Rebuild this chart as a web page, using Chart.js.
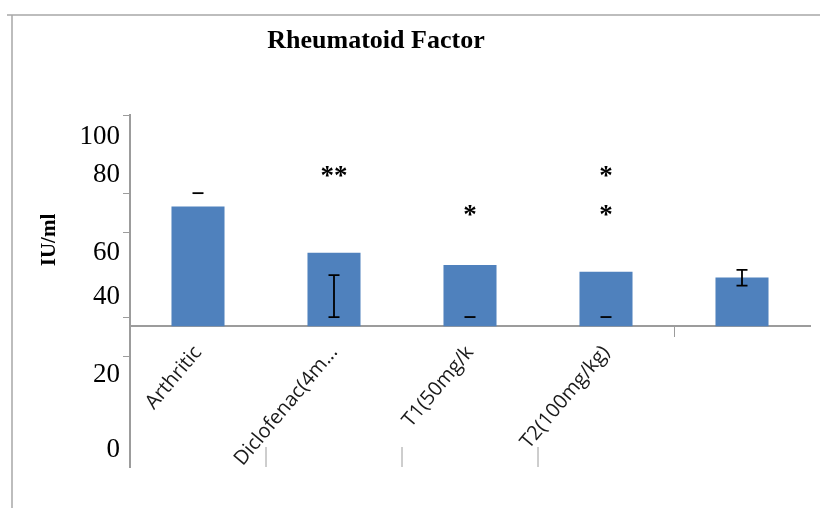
<!DOCTYPE html>
<html>
<head>
<meta charset="utf-8">
<script src="https://cdn.jsdelivr.net/npm/chart.js@4.4.1/dist/chart.umd.min.js"></script>
<style>
body { margin: 0; background: #fff; }
#wrap { width: 820px; height: 508px; }
</style>
</head>
<body>
<div id="wrap"><canvas id="chart"></canvas></div>
<script>
// values (IU/ml)
var categories = ["Arthritic", "Diclofenac(4m...", "T1(50mg/k", "T2(100mg/kg)", ""];
var values = [74.0, 60.9, 57.4, 55.5, 53.8];
var barBase = 40;
var errHigh = [77.8, 54.5, null, null, 56.0];
var errLow = [null, 42.6, 42.6, 42.6, 51.5];
var starsUpper = ["", "**", "", "*", ""];
var starsLower = ["", "", "*", "*", ""];
var starsUpperAt = 84.4;
var starsLowerAt = 73.3;

// y axis: labels and tick marks do not line up in the original
var yTickLabels = ["100", "80", "60", "40", "20", "0"];
var yTickLabelAt = [93.8, 83.0, 60.8, 48.3, 26.1, 4.8];
var yTickMarkAt = [100, 77.8, 66.5, 42.6, 31.5];

var axisGray = "#9c9c9c";

var extras = {
	id: 'extras',
	afterDraw: function(chart) {
		var ctx = chart.ctx;
		var x = chart.scales.x;
		var y = chart.scales.y;
		ctx.save();

		// outer frame
		ctx.strokeStyle = "#a8a8a8";
		ctx.lineWidth = 1.5;
		ctx.beginPath();
		ctx.moveTo(7, 15); ctx.lineTo(820, 15);
		ctx.moveTo(12, 15); ctx.lineTo(12, 508);
		ctx.stroke();

		// title and y title
		ctx.fillStyle = "#000";
		ctx.textAlign = "center";
		ctx.textBaseline = "middle";
		ctx.font = 'bold 26px "Liberation Serif"';
		ctx.fillText("Rheumatoid Factor", 376, 41);
		ctx.save();
		ctx.translate(50, 240);
		ctx.rotate(-Math.PI / 2);
		ctx.font = 'bold 21px "Liberation Serif"';
		ctx.fillText("IU/ml", 0, 0);
		ctx.restore();

		// stubs at the bottom between categories
		ctx.strokeStyle = axisGray;
		ctx.lineWidth = 1;
		for (var k = 1; k <= 3; k++) {
			var bx = (x.getPixelForValue(k - 1) + x.getPixelForValue(k)) / 2;
			ctx.beginPath();
			ctx.moveTo(bx, 447);
			ctx.lineTo(bx, chart.chartArea.bottom);
			ctx.stroke();
		}

		// error bars
		ctx.strokeStyle = "#000";
		ctx.lineWidth = 1.8;
		categories.forEach(function(c, i) {
			var px = x.getPixelForValue(i);
			var hi = errHigh[i], lo = errLow[i];
			ctx.beginPath();
			if (hi !== null && lo !== null) {
				ctx.moveTo(px, y.getPixelForValue(hi));
				ctx.lineTo(px, y.getPixelForValue(lo));
			}
			[hi, lo].forEach(function(v) {
				if (v !== null) {
					var py = y.getPixelForValue(v);
					ctx.moveTo(px - 5.5, py);
					ctx.lineTo(px + 5.5, py);
				}
			});
			ctx.stroke();
		});

		// significance stars
		ctx.font = 'bold 27px "Liberation Serif"';
		ctx.textBaseline = "alphabetic";
		categories.forEach(function(c, i) {
			var px = x.getPixelForValue(i);
			if (starsUpper[i]) ctx.fillText(starsUpper[i], px, y.getPixelForValue(starsUpperAt) + 14);
			if (starsLower[i]) ctx.fillText(starsLower[i], px, y.getPixelForValue(starsLowerAt) + 14);
		});
		ctx.restore();
	}
};

var tickValues = yTickLabelAt.concat(yTickMarkAt);

var chart = new Chart(document.getElementById("chart"), {
	type: 'bar',
	data: {
		labels: categories,
		datasets: [
			{
				data: values,
				base: barBase,
				backgroundColor: "#4F81BD",
				barPercentage: 0.39,
				categoryPercentage: 1
			}
		]
	},
	options: {
		responsive: true,
		maintainAspectRatio: false,
		animation: false,
		layout: { padding: { top: 115, right: 10, bottom: 41, left: 0 } },
		plugins: {
			legend: { display: false },
			tooltip: { enabled: false }
		},
		scales: {
			x: {
				position: { y: barBase },
				offset: true,
				border: { display: true, color: axisGray, width: 2 },
				grid: {
					offset: true,
					drawOnChartArea: false,
					tickLength: 10,
					tickColor: function(ctx) { return ctx.index >= 4 ? axisGray : 'rgba(0,0,0,0)'; }
				},
				ticks: {
					autoSkip: false,
					minRotation: 50,
					maxRotation: 50,
					padding: 5,
					color: "#1a1a1a",
					font: { family: '"Open Sans"', size: 20 }
				}
			},
			y: {
				min: 0,
				max: 100,
				afterBuildTicks: function(scale) {
					scale.ticks = tickValues.map(function(v) { return { value: v }; });
				},
				afterFit: function(scale) { scale.width = 130; },
				border: { display: true, color: axisGray, width: 2 },
				grid: {
					drawOnChartArea: false,
					tickLength: 7,
					tickColor: function(ctx) { return ctx.index >= yTickLabelAt.length ? axisGray : 'rgba(0,0,0,0)'; }
				},
				ticks: {
					autoSkip: false,
					padding: 3,
					color: "#000",
					font: { family: '"Liberation Serif"', size: 27 },
					callback: function(value, index) {
						return index < yTickLabels.length ? yTickLabels[index] : '';
					}
				}
			}
		}
	},
	plugins: [extras]
});
</script>
</body>
</html>
